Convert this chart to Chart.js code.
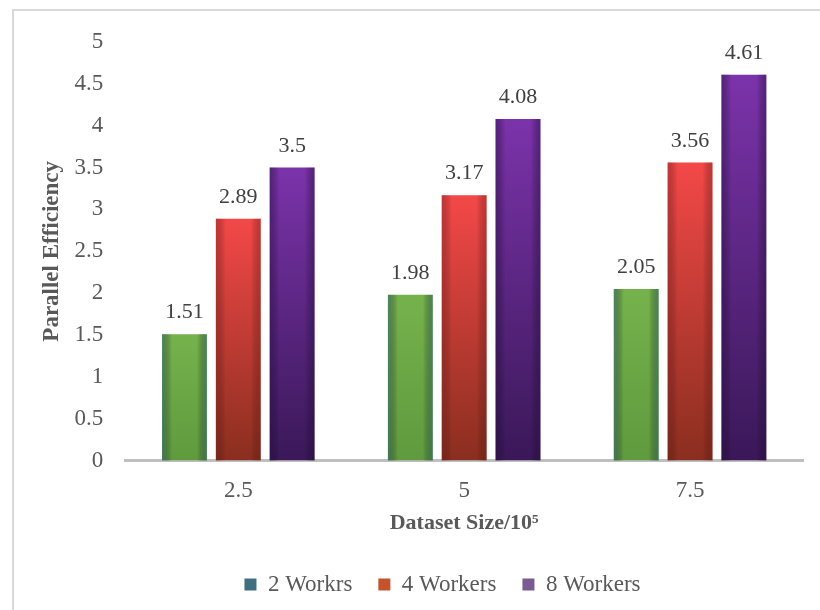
<!DOCTYPE html>
<html>
<head>
<meta charset="utf-8">
<script src="https://cdn.jsdelivr.net/npm/chart.js@4.4.1/dist/chart.umd.min.js"></script>
<style>
  html, body { margin: 0; padding: 0; background: #ffffff; }
  #wrap { width: 820px; height: 610px; position: relative; }
</style>
</head>
<body>
<div id="wrap"><canvas id="chart" width="820" height="610"></canvas></div>
<script>
const categories = ['2.5', '5', '7.5'];
const seriesNames = ['2 Workrs', '4 Workers', '8 Workers'];
const twoWorkers = [1.51, 1.98, 2.05];
const fourWorkers = [2.89, 3.17, 3.56];
const eightWorkers = [3.5, 4.08, 4.61];
const yTicks = [0, 0.5, 1, 1.5, 2, 2.5, 3, 3.5, 4, 4.5, 5];

const FONT = "'Liberation Serif', 'Times New Roman', serif";
const TEXT = '#595959';
Chart.defaults.font.family = FONT;

// top / bottom / edge tint for each series, and the legend swatch
const shades = [
  { top: '#76b24c', bottom: '#5f9a3e', edge: 'rgba(45,95,115,0.55)', legend: '#3f6e7e' },
  { top: '#f34848', bottom: '#8a2e1f', edge: 'rgba(110,30,25,0.40)', legend: '#c4532c' },
  { top: '#7b33aa', bottom: '#3a1858', edge: 'rgba(35,15,65,0.45)', legend: '#7a5a92' }
];

function barGradient(ctx) {
  const chart = ctx.chart;
  const s = shades[ctx.datasetIndex];
  if (!chart.chartArea || !ctx.parsed) return s.top;
  const y = chart.scales.y;
  const top = y.getPixelForValue(ctx.parsed.y);
  const base = y.getPixelForValue(0);
  const g = chart.ctx.createLinearGradient(0, top, 0, base);
  g.addColorStop(0, s.top);
  g.addColorStop(1, s.bottom);
  return g;
}

// soft darker sides on each bar, then the value above it
const barDecor = {
  id: 'barDecor',
  afterDatasetsDraw(chart) {
    const c = chart.ctx;
    chart.data.datasets.forEach((ds, di) => {
      const meta = chart.getDatasetMeta(di);
      meta.data.forEach((bar, i) => {
        const { x, y, base, width } = bar.getProps(['x', 'y', 'base', 'width'], true);
        const left = x - width / 2;
        const g = c.createLinearGradient(left, 0, left + width, 0);
        g.addColorStop(0, shades[di].edge);
        g.addColorStop(0.22, 'rgba(0,0,0,0)');
        g.addColorStop(0.78, 'rgba(0,0,0,0)');
        g.addColorStop(1, shades[di].edge);
        c.save();
        c.fillStyle = g;
        c.fillRect(left, y, width, base - y);
        c.restore();

        c.save();
        c.font = '22px ' + FONT;
        c.fillStyle = '#404040';
        c.textAlign = 'center';
        c.textBaseline = 'alphabetic';
        c.fillText(String(ds.data[i]), x, y - 16);
        c.restore();
      });
    });
  }
};

// light frame line on the left and top
const frame = {
  id: 'frame',
  beforeDraw(chart) {
    const c = chart.ctx;
    c.save();
    c.strokeStyle = '#d9d9d9';
    c.lineWidth = 2;
    c.beginPath();
    c.moveTo(13, 610);
    c.lineTo(13, 10);
    c.lineTo(820, 10);
    c.stroke();
    c.restore();
  }
};

// legend sits a little right of the canvas centre
const legendShift = {
  id: 'legendShift',
  afterLayout(chart) {
    chart.legend.left += 22;
    chart.legend.right += 22;
  }
};

new Chart(document.getElementById('chart'), {
  type: 'bar',
  data: {
    labels: categories,
    datasets: [
      { label: seriesNames[0], data: twoWorkers },
      { label: seriesNames[1], data: fourWorkers },
      { label: seriesNames[2], data: eightWorkers }
    ].map(d => ({
      ...d,
      backgroundColor: barGradient,
      borderWidth: 0,
      categoryPercentage: 0.715,
      barPercentage: 0.833
    }))
  },
  options: {
    responsive: false,
    animation: false,
    devicePixelRatio: 1,
    layout: { padding: { top: 42, left: 38, right: 17, bottom: 4 } },
    plugins: {
      tooltip: { enabled: false },
      legend: {
        position: 'bottom',
        labels: {
          font: { family: FONT, size: 23 },
          color: TEXT,
          boxWidth: 12,
          boxHeight: 12,
          padding: 26,
          generateLabels: chart => chart.data.datasets.map((ds, i) => ({
            text: ds.label,
            fillStyle: shades[i].legend,
            strokeStyle: shades[i].legend,
            lineWidth: 0,
            fontColor: TEXT,
            datasetIndex: i
          }))
        }
      }
    },
    scales: {
      x: {
        grid: { display: false, drawTicks: false },
        border: { display: true, color: '#bfbfbf', width: 3 },
        ticks: { font: { family: FONT, size: 23, lineHeight: 1 }, color: TEXT, padding: 19 },
        title: {
          display: true,
          text: 'Dataset Size/10\u2075',
          font: { family: FONT, size: 22, weight: 'bold' },
          color: TEXT,
          padding: { top: -11, bottom: 10 }
        }
      },
      y: {
        min: 0,
        max: 5,
        afterBuildTicks: axis => { axis.ticks = yTicks.map(v => ({ value: v })); },
        grid: { display: false, drawTicks: false },
        border: { display: false },
        ticks: {
          font: { family: FONT, size: 23 },
          color: TEXT,
          padding: 22,
          callback: v => String(v)
        },
        title: {
          display: true,
          text: 'Parallel Efficiency',
          font: { family: FONT, size: 23, weight: 'bold' },
          color: TEXT,
          padding: { top: 0, bottom: -13 }
        }
      }
    }
  },
  plugins: [frame, legendShift, barDecor]
});
</script>
</body>
</html>
